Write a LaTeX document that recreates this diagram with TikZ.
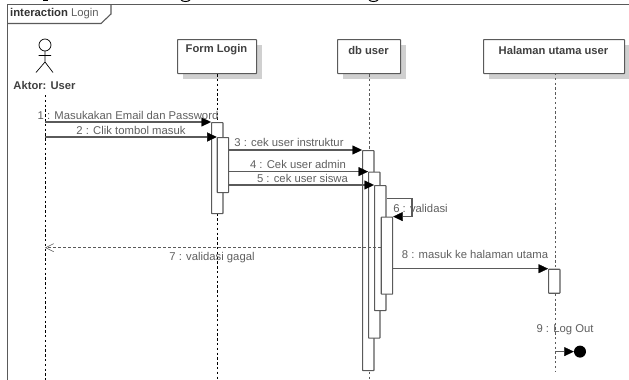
\documentclass[tikz,border=0pt]{standalone}
\usepackage{fontspec}
\setmainfont{Liberation Sans}
\usetikzlibrary{arrows.meta}
\definecolor{ln}{HTML}{5A5A5A}
\definecolor{shad}{HTML}{D0D0D0}
\definecolor{txt}{HTML}{5F5F5F}
\tikzset{
  x=1pt,y=-1pt,
  lifebox/.style={draw=ln,line width=1.1pt,fill=white,rounded corners=.6pt,inner sep=0pt,anchor=north west,text depth=0pt},
  boxlabel/.style={font=\bfseries\fontsize{11.2}{12}\selectfont,text=black!75},
  lbl/.style={font=\fontsize{11.3}{12}\selectfont,text=txt,inner sep=0pt},
  actbox/.style={draw=ln,line width=1.1pt,fill=white,inner sep=0pt,anchor=north west,minimum width=11.4pt,rounded corners=.5pt},
  msg/.style={draw=ln,line width=1.1pt,-{Triangle[length=9.5pt,width=9pt,color=black,fill=black,line width=.3pt]}},
  ret/.style={draw=ln,line width=.9pt,dash pattern=on 3pt off 2pt,-{Straight Barb[length=8pt,width=8pt,line width=.6pt]}},
  lifeline/.style={draw=black,line width=.8pt,dash pattern=on 2.4pt off 2.4pt},
  lifeline2/.style={draw=ln,line width=1pt,dash pattern=on 2.4pt off 2.4pt},
}
\begin{document}
\begin{tikzpicture}
\useasboundingbox (0,0) rectangle (629,380);
\clip (0,0) rectangle (629,380);
% clipped title descenders
\fill[black] (42.5,0) rectangle (47.5,1.3);
\draw[black,line width=1pt] (181,0) .. controls (183,2) and (188,2) .. (190,0);
\draw[black,line width=1pt] (369,0) .. controls (371,2) and (376,2) .. (378,0);
% frame
\draw[ln,line width=1.2pt] (7.5,380) -- (7.5,4.5) -- (629,4.5);
\draw[ln,line width=1.1pt] (111,4.5) -- (111,14) -- (101,23.5) -- (7.5,23.5);
\node[anchor=west,inner sep=0pt,font=\fontsize{11.3}{12}\selectfont,text=txt] (frametitle) at (10,14) {\textbf{\textcolor{black!80}{interaction}} Login};
% actor
\draw[black,line width=.7pt] (45,45) circle (6);
\draw[black,line width=.7pt] (45,51) -- (45,62) (38.5,55.5) -- (51,55.5) (36,72.5) -- (45,62) -- (53,72.5);
\node[boxlabel,inner sep=0pt] (aktor) at (44.5,85) {Aktor: User};
% lifeline heads
\fill[shad] (183,45) rectangle (262,79);
\fill[shad] (343,45) rectangle (406,79);
\fill[shad] (489,45) rectangle (629,79);
\node[lifebox,minimum width=79pt,minimum height=34pt] (form) at (177,39) {};
\node[lifebox,minimum width=63pt,minimum height=34pt] (db) at (337,39) {};
\node[lifebox,minimum width=141pt,minimum height=34pt] (hal) at (483,39) {};
\node[boxlabel] at (216.5,50) {Form Login};
\node[boxlabel] at (368.5,50) {db user};
\node[boxlabel] at (553.5,50) {Halaman utama user};
% lifelines
\coordinate (aktorbot) at (45,95);
\draw[lifeline] (aktorbot) -- (45,380);
\draw[lifeline] (form.south) -- (form.south |- 0,380);
\draw[lifeline2] (db.south) -- (db.south |- 0,380);
\draw[lifeline2] (555,73) -- (555,372);
\coordinate (aktorL) at (45,200);
% activations
\node[actbox,minimum height=91pt] (a1) at (211,122) {};
\node[actbox,minimum height=55pt] (a2) at (216.7,137) {};
\node[actbox,minimum height=220pt] (a3) at (362,150) {};
\node[actbox,minimum height=166pt] (a4) at (368,171.6) {};
\node[actbox,minimum height=125pt] (a5) at (374,185) {};
\node[actbox,minimum height=77pt] (a6) at (380.7,216.6) {};
\node[actbox,minimum height=24pt] (a8) at (548,268.7) {};
% messages
\draw[msg] (aktorL |- a1.north west) -- (a1.north west);
\draw[msg] (aktorL |- a2.north west) -- (a2.north west);
\draw[msg] (a2.east |- a3.north west) -- (a3.north west);
\draw[msg] (a2.east |- a4.north west) -- (a4.north west);
\draw[msg] (a2.east |- a5.north west) -- (a5.north west);
\coordinate (s1) at (a5.east |- 0,198.5);
\coordinate (s2) at (412,198.5);
\draw[msg] (s1) -- (s2) -- (s2 |- a6.north east) -- (a6.north east);
\draw[ret] (a6.west |- 0,247.7) -- (aktorL |- 0,247.7);
\draw[msg] (a6.east |- a8.north west) -- (a8.north west);
\node[circle,fill=black,minimum size=12pt,inner sep=0pt] (endpt) at (580,351.6) {};
\coordinate (lost) at (555,351.6);
\draw[msg] (lost) -- (endpt.west);
% labels
\node[lbl] (m1) at (128,115) {1 : Masukakan Email dan Password};
\node[lbl] (m2) at (131,130) {2 : Clik tombol masuk};
\node[lbl] (m3) at (289,142) {3 : cek user instruktur};
\node[lbl] (m4) at (298,164) {4 : Cek user admin};
\node[lbl] (m5) at (302.5,178) {5 : cek user siswa};
\node[lbl] (m6) at (420.5,208) {6 : validasi};
\node[lbl] (m7) at (212,258) {7 : validasi gagal};
\node[lbl] (m8) at (475,254) {8 : masuk ke halaman utama};
\node[lbl] (m9) at (565,330) {9 : Log Out};
\end{tikzpicture}
\end{document}
